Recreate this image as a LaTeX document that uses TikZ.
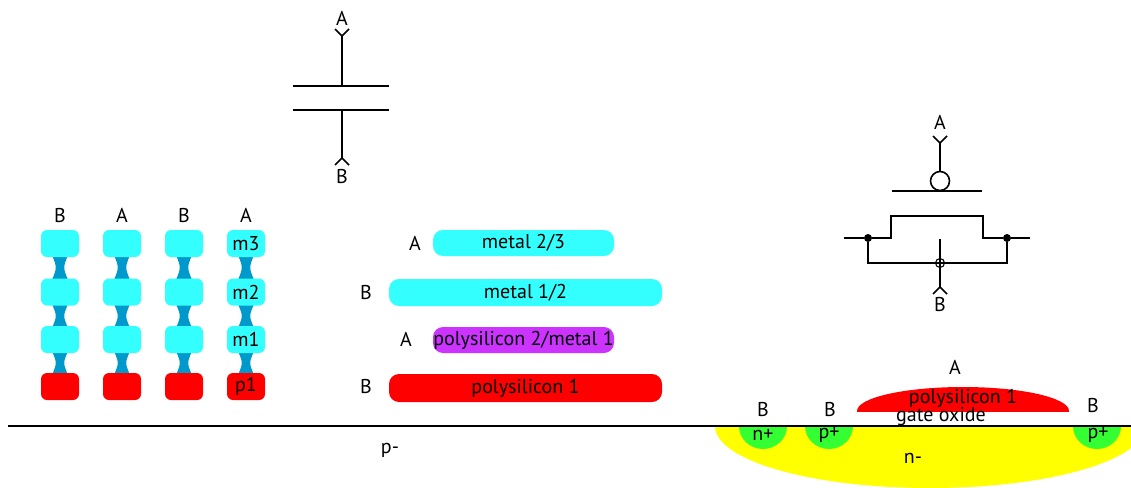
\documentclass[tikz,border=0pt]{standalone}
\usepackage{fontspec}
\setmainfont{PT Sans}
\begin{document}
\begin{tikzpicture}[x=1pt,y=-1pt,
  lbl/.style={inner sep=0pt, font=\fontsize{20}{23}\selectfont},
  wire/.style={line width=1.6pt, black},
  pad/.style={rounded corners=6pt, minimum width=38pt, minimum height=27pt, inner sep=0pt, font=\fontsize{20}{23}\selectfont},
  bar/.style={rounded corners=10pt, minimum height=26pt, inner sep=0pt, font=\fontsize{20}{23}\selectfont},
  via/.style={fill=viablue}]
\definecolor{padcyan}{RGB}{51,255,255}
\definecolor{padred}{RGB}{255,0,0}
\definecolor{viablue}{RGB}{0,153,204}
\definecolor{polypurple}{RGB}{204,51,255}
\definecolor{diffgreen}{RGB}{51,255,51}
\definecolor{wellyellow}{RGB}{255,255,0}
\useasboundingbox (0,0) rectangle (1131,487);

% ---- capacitor symbol ----
\node[lbl] (capA) at (342,18) {A};
\node[lbl] (capB) at (342,176) {B};
\coordinate (capTop) at (342,36);
\coordinate (capBot) at (342,158);
\coordinate (plT1) at (293,86);  \coordinate (plT2) at (389,86);
\coordinate (plB1) at (293,110); \coordinate (plB2) at (389,110);
\draw[wire] (plT1) -- (plT2);
\draw[wire] (plB1) -- (plB2);
\draw[wire] (capTop) -- (capTop |- plT1);
\draw[wire] (capBot) -- (capBot |- plB1);
\draw[wire] ([shift={(-7,-7)}]capTop) -- (capTop) -- ([shift={(7,-7)}]capTop);
\draw[wire] ([shift={(-7,7)}]capBot) -- (capBot) -- ([shift={(7,7)}]capBot);

% ---- MOS capacitor symbol ----
\node[lbl] (tA) at (940,122) {A};
\node[lbl] (tB) at (940,304) {B};
\coordinate (tTop) at (940,143);
\node[circle, draw, line width=1.6pt, minimum size=19pt, inner sep=0pt] (gc) at (940,181) {};
\coordinate (gL) at (892,191); \coordinate (gR) at (982,191);
\draw[wire] (gL) -- (gR);
\draw[wire] (tTop) -- (gc.north);
\draw[wire] ([shift={(-7,-7)}]tTop) -- (tTop) -- ([shift={(7,-7)}]tTop);
\coordinate (sIn) at (844,238); \coordinate (dOut) at (1030,238);
\node[circle, fill=black, minimum size=8pt, inner sep=0pt] (sDot) at (868,238) {};
\node[circle, fill=black, minimum size=8pt, inner sep=0pt] (dDot) at (1007,238) {};
\draw[wire] (sIn) -- (sDot) -- (891,238) -- (891,216) -- (983,216) -- (983,238) -- (dDot) -- (dOut);
\node[circle, draw, line width=1.1pt, minimum size=9pt, inner sep=0pt] (bulk) at (940,263) {};
\draw[wire] (sDot) -- (sDot |- bulk) -- (bulk.west);
\draw[wire] (dDot) -- (dDot |- bulk) -- (bulk.east);
\coordinate (tBot) at (940,287);
\draw[wire] (940,239) -- (tBot);
\draw[line width=1.1pt] (bulk.west) -- (bulk.east);
\draw[wire] ([shift={(-7,7)}]tBot) -- (tBot) -- ([shift={(7,7)}]tBot);

% ---- stacked via columns ----
\foreach \cx/\net [count=\i] in {60/B,122/A,184/B,246/A} {
  \node[lbl] (net\i) at (\cx,215) {\net};
  \foreach \ya/\yb in {255/280,304/328,351/375} {
    \fill[via] (\cx-8,\ya) .. controls (\cx-3,{(\ya+\yb)/2}) .. (\cx-8,\yb)
      -- (\cx+8,\yb) .. controls (\cx+3,{(\ya+\yb)/2}) .. (\cx+8,\ya) -- cycle;
  }
}
\foreach \cx [count=\i] in {60,122,184} {
  \node[pad, fill=padcyan] (mthree\i) at (\cx,243.5) {};
  \node[pad, fill=padcyan] (mtwo\i) at (\cx,292) {};
  \node[pad, fill=padcyan] (mone\i) at (\cx,339.5) {};
  \node[pad, fill=padred] (pone\i) at (\cx,386.5) {};
}
\node[pad, fill=padcyan] (mthree4) at (246,243.5) {m3};
\node[pad, fill=padcyan] (mtwo4) at (246,292) {m2};
\node[pad, fill=padcyan] (mone4) at (246,339.5) {m1};
\node[pad, fill=padred] (pone4) at (246,386.5) {p1};

% ---- layer bars ----
\node[bar, fill=padcyan, minimum width=181pt] (bm23) at (523.5,243) {metal 2/3};
\node[bar, fill=padcyan, minimum width=273pt, minimum height=27pt] (bm12) at (525.5,292.5) {metal 1/2};
\node[bar, fill=polypurple, minimum width=181pt] (bp2) at (523.5,340) {polysilicon 2/metal 1};
\node[bar, fill=padred, minimum width=273pt, minimum height=28pt] (bp1) at (525.5,388) {polysilicon 1};
\node[lbl] (lm23) at (415,243) {A};
\node[lbl] (lm12) at (366,292) {B};
\node[lbl] (lp2) at (406,339) {A};
\node[lbl] (lp1) at (366,386) {B};

% ---- cross section ----
\begin{scope}
  \clip (0,426) rectangle (1131,487);
  \fill[wellyellow] (930,426) ellipse [x radius=215, y radius=62];
  \fill[diffgreen] (763,426) ellipse [x radius=24, y radius=23];
  \fill[diffgreen] (829,426) ellipse [x radius=24, y radius=23];
  \fill[diffgreen] (1097,426) ellipse [x radius=24, y radius=23];
\end{scope}
\begin{scope}
  \clip (800,350) rectangle (1131,411);
  \fill[padred] (963,411) ellipse [x radius=106, y radius=24];
\end{scope}
\coordinate (surfL) at (8,426); \coordinate (surfR) at (1131,426);
\draw[line width=1.6pt] (surfL) -- (surfR);
\node[lbl] (pminus) at (390,450) {p-};
\node[lbl] (nminus) at (913,458) {n-};
\node[lbl] (nplus) at (763,435) {n+};
\node[lbl] (pplus1) at (829,435) {p+};
\node[lbl] (pplus2) at (1098,435) {p+};
\node[lbl] (sB1) at (763,409) {B};
\node[lbl] (sB2) at (830,409) {B};
\node[lbl] (sB3) at (1093,405) {B};
\node[lbl] (sA) at (955,367) {A};
\node[lbl] (gpoly) at (963,398) {polysilicon 1};
\node[lbl] (gox) at (941,417) {gate oxide};
\end{tikzpicture}
\end{document}
